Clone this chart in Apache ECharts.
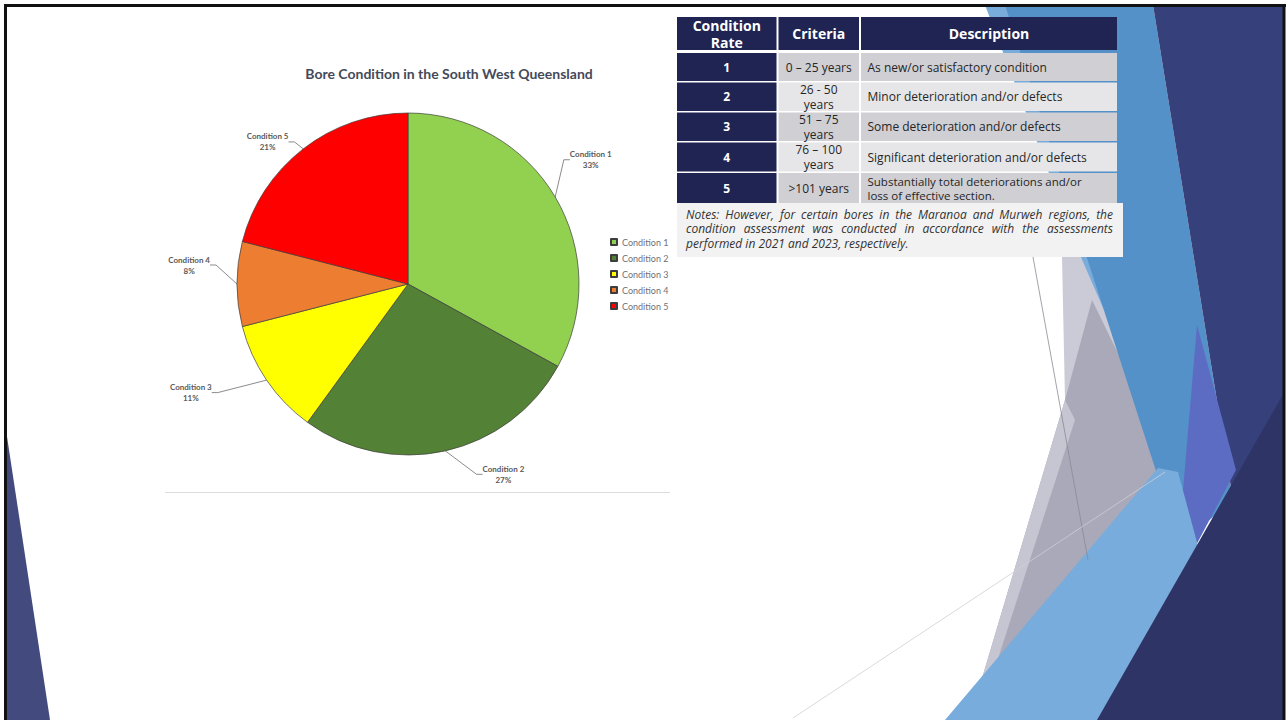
<!DOCTYPE html>
<html>
<head>
<meta charset="utf-8">
<title>Bore Condition in the South West Queensland</title>
<script src="https://cdn.jsdelivr.net/npm/echarts@6/dist/echarts.min.js"></script>
<style>
  html, body { margin: 0; padding: 0; background: #ffffff; }
  #chart { width: 1288px; height: 720px; }
</style>
</head>
<body>
<div id="chart"></div>
<script>
// pie data
const conditionNames = ['Condition 1', 'Condition 2', 'Condition 3', 'Condition 4', 'Condition 5']
const conditionShare = [33, 27, 11, 8, 21]
const conditionColors = ['#92d050', '#538135', '#ffff00', '#ed7d31', '#ff0000']

// table data
const headerLabels = ['Condition\nRate', 'Criteria', 'Description']
const rateLabels = ['1', '2', '3', '4', '5']
const criteriaLabels = ['0 – 25 years', '26 - 50\nyears', '51 – 75\nyears', '76 – 100\nyears', '>101 years']
const descriptionLabels = [
  'As new/or satisfactory condition',
  'Minor deterioration and/or defects',
  'Some deterioration and/or defects',
  'Significant deterioration and/or defects',
  'Substantially total deteriorations and/or\nloss of effective section.'
]
const noteLines = [
  'Notes: However, for certain bores in the Maranoa and Murweh regions, the',
  'condition assessment was conducted in accordance with the assessments',
  'performed in 2021 and 2023, respectively.'
]

const FONT = '"Open Sans", "DejaVu Sans", sans-serif'
const CHART_FONT = 'Lato, "Open Sans", sans-serif'
const NAVY = '#1f2452'

// label nudges (from the default outside spot) so the callouts sit where Excel put them
const labelNudge = [[-17, -25], [21, 0], [-24, -1], [8, -19], [11, 12]]

// slide background decoration (theme shapes)
const poly = (points, fill) => ({ type: 'polygon', silent: true, shape: { points }, style: { fill } })
const line = (x1, y1, x2, y2, stroke, lineWidth) => ({
  type: 'line', silent: true, shape: { x1, y1, x2, y2 }, style: { stroke, lineWidth }
})

const backdrop = [
  // grey wedge, drawn first so the blues overlap it
  poly([[1062, 257], [1120, 257], [1180, 470], [1065, 400]], '#cbcbd7'),
  poly([[1065, 400], [1092, 300], [1175, 470], [980, 685]], '#a9a9b9'),
  poly([[1065, 400], [1075, 420], [995, 668], [980, 685]], '#c6c5d2'),
  poly([[985, 5], [1012, 5], [1104, 310], [1080, 255]], '#79acdb'),
  poly([[1005, 5], [1153, 5], [1233, 500], [1180, 545]], '#5591c9'),
  poly([[1153, 5], [1285, 5], [1285, 720], [1233, 500]], '#36407a'),
  poly([[1197, 325], [1236, 470], [1175, 585]], '#5d6cc3'),
  poly([[945, 720], [1158, 468], [1178, 472], [1245, 720]], '#78acdc'),
  poly([[1285, 391], [1285, 720], [1097, 720]], '#2e3466'),
  line(1033, 257, 1088, 560, '#8a8a96', 0.8),
  line(793, 718, 1165, 472, '#cfcfd6', 0.8),
  poly([[6, 430], [50, 720], [6, 720]], '#434a7d'),
  // slide frame
  line(4, 5.5, 1286, 5.5, '#111111', 3),
  line(5.5, 4, 5.5, 720, '#111111', 3),
  line(1284, 4, 1284, 720, '#111111', 3),
  // rule under the pasted chart
  line(165, 492.5, 670, 492.5, '#dcdcdc', 1)
]

// table
const colX = [677, 778.5, 861]
const colW = [99.5, 80.5, 256]
const rowTop = [53, 82.5, 112.5, 142.5, 173]
const rowH = [28, 28.5, 28.5, 29, 30]
const tableEls = []

headerLabels.forEach((label, i) => {
  tableEls.push({ type: 'rect', silent: true, shape: { x: colX[i], y: 17, width: colW[i], height: 33 }, style: { fill: NAVY } })
  tableEls.push({
    type: 'text', silent: true, x: colX[i] + colW[i] / 2, y: 33.7,
    style: { text: label, fill: '#ffffff', font: 'bold 14px ' + FONT, align: 'center', verticalAlign: 'middle', lineHeight: 17 }
  })
})

rateLabels.forEach((rate, r) => {
  const y = rowTop[r]
  const h = rowH[r]
  const cellFill = r % 2 === 0 ? '#cfcfd4' : '#e6e6e8'
  const twoLineDesc = descriptionLabels[r].indexOf('\n') >= 0
  tableEls.push({ type: 'rect', silent: true, shape: { x: colX[0], y, width: colW[0], height: h }, style: { fill: NAVY } })
  tableEls.push({ type: 'rect', silent: true, shape: { x: colX[1], y, width: colW[1], height: h }, style: { fill: cellFill } })
  tableEls.push({ type: 'rect', silent: true, shape: { x: colX[2], y, width: colW[2], height: h }, style: { fill: cellFill } })
  tableEls.push({
    type: 'text', silent: true, x: colX[0] + colW[0] / 2, y: y + h / 2,
    style: { text: rate, fill: '#ffffff', font: 'bold 12px ' + FONT, align: 'center', verticalAlign: 'middle' }
  })
  tableEls.push({
    type: 'text', silent: true, x: colX[1] + colW[1] / 2, y: y + h / 2,
    style: { text: criteriaLabels[r], fill: '#262626', font: '12px ' + FONT, align: 'center', verticalAlign: 'middle', lineHeight: 15 }
  })
  tableEls.push({
    type: 'text', silent: true, x: colX[2] + 6.5, y: y + h / 2,
    style: {
      text: descriptionLabels[r], fill: '#262626',
      font: (twoLineDesc ? '11.5px ' : '12px ') + FONT,
      align: 'left', verticalAlign: 'middle', lineHeight: 14
    }
  })
})

// notes box, justified like the original
tableEls.push({ type: 'rect', silent: true, shape: { x: 677, y: 203, width: 446, height: 54 }, style: { fill: '#f2f2f2' } })
const noteFont = 'italic 12px ' + FONT
const measureCtx = document.createElement('canvas').getContext('2d')
measureCtx.font = noteFont
noteLines.forEach((text, i) => {
  const words = text.split(' ')
  const widths = words.map(w => measureCtx.measureText(w).width)
  const total = widths.reduce((a, b) => a + b, 0)
  const last = i === noteLines.length - 1
  const gap = last ? measureCtx.measureText(' ').width : (1113 - 686 - total) / (words.length - 1)
  let x = 686
  words.forEach((w, k) => {
    tableEls.push({
      type: 'text', silent: true, x, y: 214 + i * 14.6,
      style: { text: w, fill: '#333333', font: noteFont, align: 'left', verticalAlign: 'middle' }
    })
    x += widths[k] + gap
  })
})

const chart = echarts.init(document.getElementById('chart'), null, { renderer: 'svg' })

const option = {
  backgroundColor: '#ffffff',
  animation: false,
  title: {
    text: 'Bore Condition in the South West Queensland',
    left: 444,
    top: 61,
    textAlign: 'center',
    textStyle: { fontFamily: CHART_FONT, fontSize: 14, fontWeight: 'bold', color: '#44495a' }
  },
  legend: {
    orient: 'vertical',
    left: 610,
    top: 237,
    padding: 0,
    icon: 'rect',
    itemWidth: 6,
    itemHeight: 6,
    itemGap: 6,
    data: conditionNames,
    textStyle: { fontFamily: CHART_FONT, fontSize: 9, color: '#6f6f78', lineHeight: 10 }
  },
  graphic: { elements: backdrop.concat(tableEls) },
  series: [
    {
      name: 'Bore Condition',
      type: 'pie',
      center: [408, 284],
      radius: 171,
      startAngle: 90,
      clockwise: true,
      avoidLabelOverlap: false,
      data: conditionNames.map((name, i) => ({
        name,
        value: conditionShare[i],
        itemStyle: { color: conditionColors[i] }
      })),
      itemStyle: { borderColor: '#3d3d3d', borderWidth: 0.7 },
      label: {
        show: true,
        position: 'outside',
        formatter: '{b}\n{d}%',
        fontFamily: CHART_FONT,
        fontSize: 8,
        fontWeight: 'bold',
        color: '#595959',
        lineHeight: 11,
        align: 'center'
      },
      labelLine: {
        show: true,
        length: 24,
        length2: 6,
        lineStyle: { color: '#595959', width: 0.7 }
      },
      labelLayout: params => {
        const r = params.labelRect
        const n = labelNudge[params.dataIndex]
        return {
          x: r.x + r.width / 2 + n[0],
          y: r.y + r.height / 2 + n[1],
          align: 'center',
          verticalAlign: 'middle'
        }
      },
      emphasis: { disabled: true }
    }
  ]
}

chart.setOption(option)
</script>
</body>
</html>
